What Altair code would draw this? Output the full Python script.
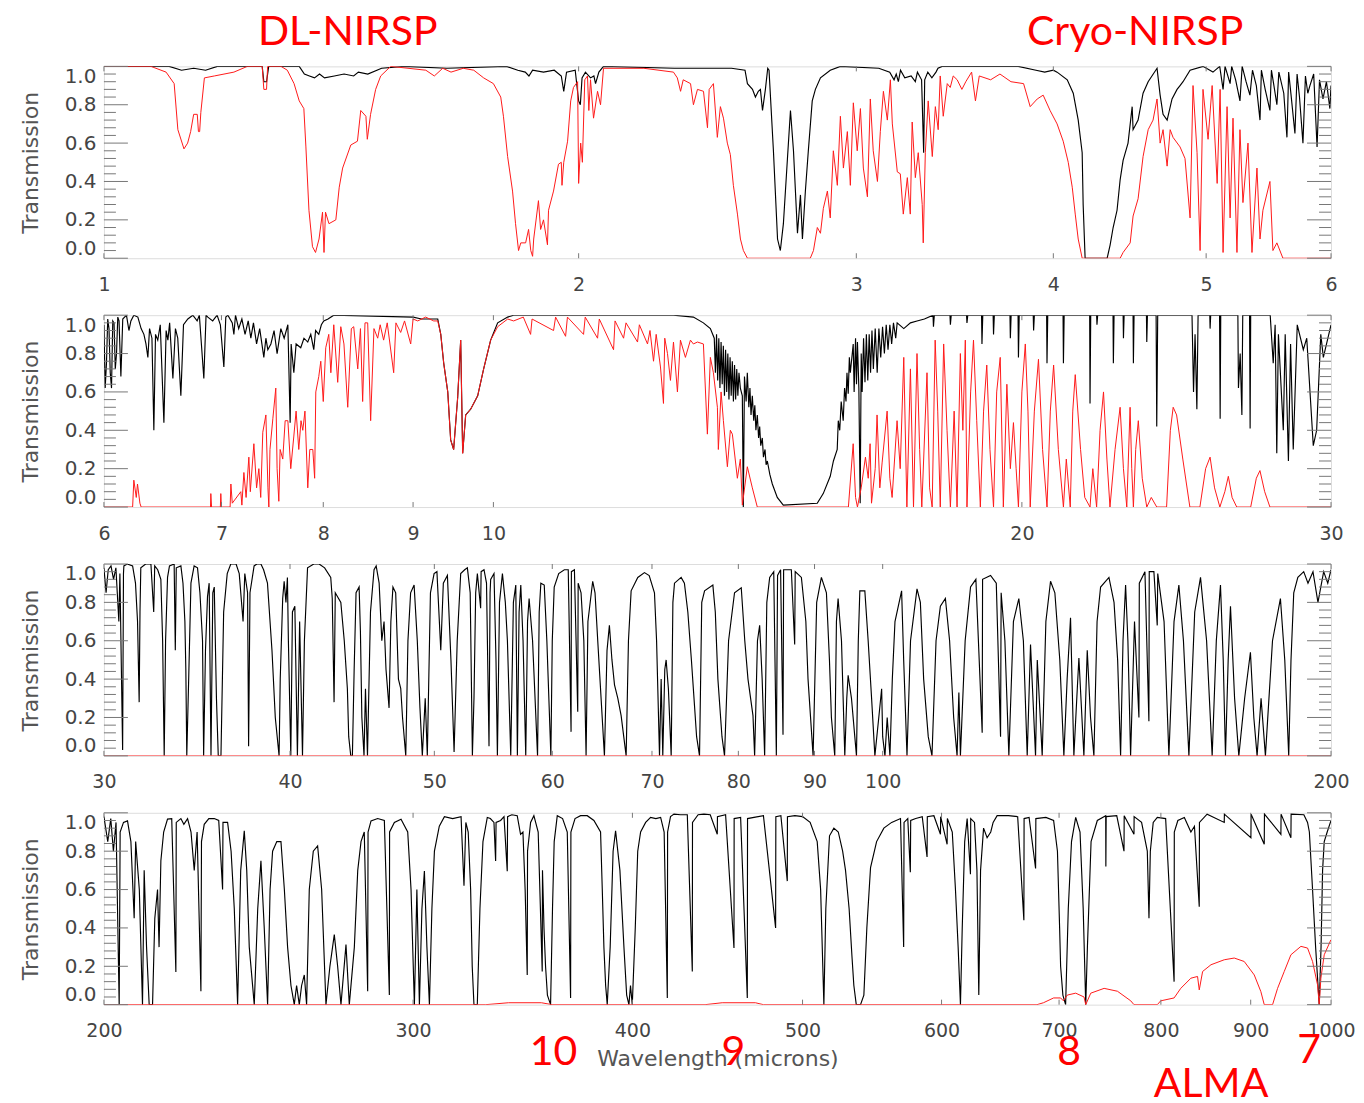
import altair as alt
import pandas as pd

# ---------------- data (wavelength in microns, transmission) ----------------
P1_RANGE = [1, 6]
P1_TICKS = [1, 2, 3, 4, 5, 6]
P2_RANGE = [6, 30]
P2_TICKS = [6, 7, 8, 9, 10, 20, 30]
P3_RANGE = [30, 200]
P3_TICKS = [30, 40, 50, 60, 70, 80, 90, 100, 200]
P4_RANGE = [200, 1000]
P4_TICKS = [200, 300, 400, 500, 600, 700, 800, 900, 1000]

Y_MAJOR = [0.0, 0.2, 0.4, 0.6, 0.8, 1.0]
Y_MINOR = [0.04, 0.08, 0.12, 0.16, 0.24, 0.28, 0.32, 0.36, 0.44, 0.48, 0.52, 0.56,
           0.64, 0.68, 0.72, 0.76, 0.84, 0.88, 0.92, 0.96]

P1_BLACK = [(1.0,1.0),(1.10,1.0),(1.12,0.98),(1.14,0.99),(1.16,0.98),(1.18,1.0),(1.26,1.0),(1.263,0.92),(1.268,0.92),(1.272,1.0),(1.33,1.0),(1.34,0.96),(1.35,0.95),(1.36,0.94),(1.37,0.96),(1.38,0.94),(1.40,0.95),(1.42,0.96),(1.44,0.95),(1.45,0.97),(1.47,0.96),(1.50,0.99),(1.55,1.0),(1.65,0.99),(1.80,1.0),(1.83,0.98),(1.85,0.97),(1.86,0.95),(1.87,0.98),(1.90,0.97),(1.93,0.98),(1.95,0.95),(1.957,0.87),(1.965,0.97),(1.99,0.98),(2.00,0.82),(2.005,0.80),(2.01,0.94),(2.02,0.97),(2.035,0.94),(2.045,0.95),(2.05,0.91),(2.06,0.97),(2.074,1.0),(2.3,0.99),(2.5,0.99),(2.55,0.98),(2.559,0.91),(2.578,0.88),(2.589,0.84),(2.600,0.87),(2.608,0.88),(2.616,0.77),(2.627,0.88),(2.636,0.99),(2.641,0.98),(2.658,0.56),(2.674,0.10),(2.685,0.04),(2.697,0.18),(2.713,0.52),(2.725,0.77),(2.737,0.56),(2.753,0.13),(2.765,0.33),(2.773,0.10),(2.785,0.35),(2.797,0.56),(2.813,0.82),(2.826,0.88),(2.847,0.94),(2.888,0.98),(2.931,1.0),(3.1,0.99),(3.15,0.97),(3.17,0.93),(3.18,0.96),(3.19,0.92),(3.20,0.98),(3.22,0.94),(3.25,0.95),(3.27,0.92),(3.28,0.97),(3.30,0.93),(3.31,0.55),(3.315,0.93),(3.33,0.97),(3.35,0.94),(3.37,0.97),(3.38,0.99),(3.40,1.0),(3.8,1.0),(3.9,0.98),(3.95,0.97),(4.0,0.98),(4.022,0.97),(4.082,0.93),(4.118,0.86),(4.148,0.72),(4.172,0.55),(4.178,0.28),(4.190,0.0),(4.327,0.0),(4.346,0.07),(4.365,0.16),(4.390,0.25),(4.410,0.41),(4.429,0.51),(4.461,0.60),(4.488,0.79),(4.494,0.67),(4.527,0.72),(4.560,0.86),(4.594,0.92),(4.654,0.99),(4.675,0.85),(4.695,0.75),(4.723,0.72),(4.757,0.83),(4.792,0.88),(4.813,0.90),(4.834,0.92),(4.884,0.98),(4.977,1.0),(5.05,0.97),(5.10,1.0),(5.125,0.88),(5.14,1.0),(5.178,0.91),(5.19,1.0),(5.22,0.93),(5.253,0.82),(5.27,1.0),(5.30,0.92),(5.33,0.85),(5.35,0.98),(5.38,0.90),(5.409,0.72),(5.42,0.98),(5.45,0.88),(5.488,0.77),(5.50,0.98),(5.52,0.90),(5.544,0.80),(5.56,0.97),(5.60,0.86),(5.626,0.63),(5.64,0.97),(5.66,0.85),(5.692,0.65),(5.71,0.96),(5.73,0.84),(5.759,0.60),(5.78,0.95),(5.80,0.86),(5.818,0.90),(5.85,0.96),(5.879,0.58),(5.90,0.93),(5.930,0.83),(5.96,0.92),(5.990,0.78),(6.0,0.9)]

P1_RED = [(1.0,1.0),(1.071,1.0),(1.095,0.97),(1.108,0.91),(1.114,0.67),(1.124,0.57),(1.130,0.60),(1.135,0.66),(1.140,0.75),(1.146,0.75),(1.148,0.66),(1.150,0.66),(1.152,0.76),(1.158,0.94),(1.175,0.95),(1.209,0.97),(1.233,1.0),(1.26,1.0),(1.263,0.88),(1.268,0.88),(1.270,1.0),(1.295,1.0),(1.307,0.98),(1.320,0.91),(1.330,0.82),(1.339,0.78),(1.343,0.58),(1.349,0.25),(1.356,0.06),(1.362,0.03),(1.369,0.10),(1.376,0.24),(1.379,0.03),(1.382,0.24),(1.389,0.18),(1.403,0.20),(1.410,0.37),(1.417,0.47),(1.434,0.59),(1.448,0.61),(1.455,0.77),(1.466,0.74),(1.469,0.62),(1.476,0.75),(1.487,0.88),(1.498,0.95),(1.520,1.0),(1.60,0.98),(1.62,0.95),(1.64,0.99),(1.66,0.97),(1.69,0.99),(1.716,0.98),(1.741,0.94),(1.766,0.91),(1.785,0.84),(1.792,0.74),(1.803,0.53),(1.816,0.35),(1.824,0.18),(1.832,0.04),(1.838,0.08),(1.851,0.08),(1.859,0.15),(1.865,0.04),(1.870,0.01),(1.873,0.10),(1.886,0.30),(1.892,0.15),(1.900,0.20),(1.911,0.07),(1.914,0.25),(1.928,0.35),(1.942,0.49),(1.950,0.50),(1.952,0.38),(1.957,0.50),(1.968,0.61),(1.977,0.82),(1.985,0.89),(1.997,0.92),(2.000,0.39),(2.006,0.60),(2.011,0.50),(2.018,0.93),(2.026,0.95),(2.030,0.77),(2.035,0.93),(2.044,0.73),(2.056,0.87),(2.065,0.80),(2.074,0.99),(2.2,0.99),(2.297,0.97),(2.31,0.94),(2.321,0.87),(2.33,0.93),(2.355,0.91),(2.365,0.80),(2.379,0.88),(2.400,0.87),(2.414,0.68),(2.420,0.88),(2.435,0.91),(2.449,0.63),(2.460,0.79),(2.471,0.73),(2.485,0.60),(2.496,0.54),(2.507,0.38),(2.522,0.23),(2.533,0.10),(2.544,0.04),(2.559,0.0),(2.805,0.0),(2.818,0.04),(2.834,0.16),(2.847,0.13),(2.859,0.26),(2.876,0.35),(2.888,0.21),(2.901,0.56),(2.918,0.38),(2.931,0.74),(2.944,0.47),(2.961,0.66),(2.974,0.38),(2.987,0.81),(3.004,0.56),(3.018,0.78),(3.031,0.47),(3.049,0.32),(3.062,0.83),(3.075,0.56),(3.094,0.40),(3.107,0.66),(3.121,0.87),(3.139,0.72),(3.153,0.93),(3.162,0.70),(3.185,0.45),(3.199,0.44),(3.213,0.23),(3.232,0.42),(3.246,0.23),(3.255,0.71),(3.270,0.42),(3.284,0.55),(3.303,0.28),(3.308,0.08),(3.318,0.55),(3.332,0.82),(3.352,0.53),(3.367,0.79),(3.381,0.67),(3.391,0.95),(3.406,0.74),(3.426,0.91),(3.441,0.89),(3.456,0.95),(3.476,0.93),(3.50,0.88),(3.52,0.92),(3.55,0.97),(3.57,0.82),(3.59,0.95),(3.65,0.93),(3.70,0.96),(3.76,0.92),(3.83,0.91),(3.867,0.79),(3.907,0.83),(3.941,0.85),(3.981,0.77),(4.022,0.70),(4.058,0.61),(4.088,0.50),(4.112,0.37),(4.130,0.23),(4.148,0.10),(4.172,0.0),(4.410,0.0),(4.429,0.03),(4.475,0.08),(4.494,0.22),(4.527,0.31),(4.560,0.53),(4.594,0.67),(4.627,0.72),(4.654,0.83),(4.675,0.60),(4.695,0.67),(4.723,0.48),(4.744,0.67),(4.764,0.63),(4.813,0.58),(4.848,0.52),(4.884,0.21),(4.905,0.90),(4.934,0.55),(4.956,0.04),(4.977,0.88),(5.014,0.62),(5.044,0.90),(5.081,0.39),(5.103,0.88),(5.125,0.03),(5.155,0.79),(5.178,0.21),(5.200,0.73),(5.230,0.03),(5.253,0.67),(5.276,0.29),(5.315,0.60),(5.346,0.03),(5.385,0.47),(5.409,0.10),(5.432,0.25),(5.488,0.40),(5.512,0.04),(5.544,0.08),(5.593,0.0),(6.0,0.0)]

P2_BLACK = [(6.0,0.95),(6.01,0.62),(6.02,0.75),(6.03,0.98),(6.04,0.93),(6.05,0.70),(6.06,0.62),(6.07,0.97),(6.08,0.96),(6.09,0.72),(6.10,0.80),(6.11,0.99),(6.12,0.97),(6.135,0.68),(6.15,0.98),(6.18,1.0),(6.20,0.92),(6.216,0.97),(6.24,1.0),(6.273,0.99),(6.30,0.93),(6.323,0.90),(6.34,0.85),(6.356,0.78),(6.37,0.93),(6.39,0.88),(6.406,0.40),(6.42,0.90),(6.439,0.87),(6.46,0.95),(6.491,0.44),(6.51,0.92),(6.525,0.87),(6.54,0.96),(6.568,0.67),(6.59,0.93),(6.61,0.88),(6.637,0.58),(6.66,0.95),(6.698,0.98),(6.742,1.0),(6.78,0.97),(6.80,1.0),(6.840,0.67),(6.86,1.0),(6.876,0.99),(6.92,0.97),(6.96,1.0),(6.99,0.95),(7.022,0.73),(7.04,0.99),(7.059,1.0),(7.10,0.96),(7.115,0.90),(7.13,1.0),(7.16,0.93),(7.19,0.98),(7.22,0.90),(7.25,0.97),(7.275,0.88),(7.30,0.96),(7.33,0.85),(7.36,0.93),(7.40,0.78),(7.42,0.88),(7.439,0.82),(7.469,0.85),(7.50,0.92),(7.53,0.80),(7.567,0.93),(7.60,0.88),(7.637,0.95),(7.66,0.44),(7.67,0.85),(7.697,0.70),(7.72,0.85),(7.767,0.83),(7.80,0.88),(7.839,0.86),(7.87,0.90),(7.901,0.82),(7.92,0.92),(7.953,0.90),(7.98,0.95),(8.005,0.97),(8.05,0.98),(8.111,1.0),(9.0,0.99),(9.1,0.98),(9.2,0.98),(9.296,0.98),(9.333,0.90),(9.369,0.75),(9.419,0.60),(9.455,0.35),(9.492,0.30),(9.542,0.57),(9.58,0.87),(9.605,0.28),(9.643,0.48),(9.706,0.51),(9.796,0.58),(9.873,0.72),(9.964,0.87),(10.056,0.96),(10.189,0.99),(10.269,1.0),(12.664,1.0),(12.999,0.99),(13.171,0.96),(13.292,0.93),(13.36,0.88),(13.38,0.70),(13.40,0.90),(13.42,0.66),(13.44,0.88),(13.46,0.62),(13.48,0.86),(13.50,0.64),(13.52,0.84),(13.54,0.58),(13.56,0.82),(13.58,0.60),(13.60,0.80),(13.62,0.56),(13.64,0.78),(13.66,0.58),(13.68,0.76),(13.70,0.55),(13.72,0.74),(13.74,0.56),(13.76,0.72),(13.78,0.58),(13.80,0.70),(13.825,0.62),(13.861,0.58),(13.879,0.0),(13.90,0.68),(13.93,0.55),(13.952,0.70),(13.98,0.52),(14.0,0.62),(14.02,0.48),(14.044,0.58),(14.07,0.45),(14.09,0.53),(14.11,0.40),(14.136,0.48),(14.16,0.36),(14.18,0.42),(14.20,0.32),(14.229,0.36),(14.25,0.26),(14.28,0.30),(14.30,0.22),(14.323,0.24),(14.37,0.17),(14.417,0.12),(14.511,0.05),(14.626,0.01),(15.292,0.02),(15.413,0.07),(15.555,0.16),(15.62,0.24),(15.698,0.30),(15.72,0.45),(15.75,0.40),(15.78,0.55),(15.822,0.45),(15.85,0.62),(15.88,0.55),(15.90,0.70),(15.926,0.59),(15.95,0.78),(15.97,0.70),(16.031,0.85),(16.05,0.60),(16.08,0.88),(16.10,0.64),(16.12,0.86),(16.15,0.62),(16.178,0.02),(16.2,0.80),(16.22,0.60),(16.25,0.88),(16.28,0.65),(16.31,0.90),(16.34,0.66),(16.37,0.90),(16.40,0.70),(16.43,0.92),(16.46,0.72),(16.50,0.93),(16.543,0.70),(16.58,0.93),(16.62,0.78),(16.66,0.94),(16.70,0.80),(16.74,0.95),(16.78,0.82),(16.82,0.95),(16.86,0.85),(16.90,0.96),(16.95,0.88),(16.982,0.96),(17.13,0.93),(17.28,0.96),(17.43,0.97),(17.6,0.98),(17.80,1.0),(17.81,0.94),(17.83,1.0),(18.2,1.0),(18.21,0.95),(18.23,1.0),(18.6,1.0),(18.61,0.96),(18.63,1.0),(18.97,1.0),(18.98,0.85),(19.0,1.0),(19.26,1.0),(19.27,0.90),(19.29,1.0),(19.69,1.0),(19.70,0.88),(19.72,1.0),(19.90,1.0),(19.91,0.78),(19.93,1.0),(20.30,1.0),(20.31,0.92),(20.33,1.0),(20.66,1.0),(20.67,0.75),(20.69,1.0),(21.11,1.0),(21.12,0.75),(21.14,1.0),(21.86,1.0),(21.87,0.54),(21.89,1.0),(22.06,1.0),(22.07,0.95),(22.09,1.0),(22.54,1.0),(22.55,0.75),(22.57,1.0),(22.84,1.0),(22.85,0.88),(22.87,1.0),(23.14,1.0),(23.15,0.75),(23.17,1.0),(23.55,1.0),(23.56,0.86),(23.58,1.0),(23.85,1.0),(23.87,0.42),(23.90,1.0),(25.0,1.0),(25.05,0.60),(25.10,0.90),(25.16,0.51),(25.20,1.0),(25.59,1.0),(25.60,0.93),(25.62,1.0),(25.92,1.0),(25.94,0.46),(25.96,1.0),(26.55,1.0),(26.57,0.62),(26.63,0.80),(26.69,0.48),(26.72,1.0),(26.96,1.0),(26.98,0.41),(27.00,1.0),(27.7,1.0),(27.81,0.75),(27.88,0.95),(27.94,0.28),(28.0,0.90),(28.18,0.40),(28.25,0.9),(28.37,0.24),(28.45,0.85),(28.55,0.30),(28.7,0.95),(28.93,0.82),(29.06,0.88),(29.31,0.32),(29.44,0.40),(29.6,0.90),(29.70,0.78),(30.0,0.95)]

P2_RED = [(6.0,0.0),(6.23,0.0),(6.24,0.14),(6.26,0.05),(6.27,0.12),(6.29,0.02),(6.30,0.0),(6.90,0.0),(6.903,0.07),(6.91,0.0),(6.99,0.0),(6.994,0.07),(7.00,0.0),(7.08,0.0),(7.087,0.12),(7.10,0.02),(7.18,0.08),(7.19,0.01),(7.209,0.18),(7.23,0.05),(7.256,0.26),(7.27,0.08),(7.304,0.33),(7.33,0.10),(7.352,0.20),(7.37,0.05),(7.39,0.39),(7.42,0.48),(7.44,0.10),(7.449,0.0),(7.46,0.3),(7.488,0.46),(7.517,0.62),(7.53,0.2),(7.547,0.03),(7.56,0.3),(7.586,0.25),(7.61,0.45),(7.637,0.45),(7.666,0.20),(7.697,0.37),(7.72,0.5),(7.747,0.30),(7.77,0.45),(7.788,0.40),(7.81,0.5),(7.839,0.10),(7.86,0.3),(7.891,0.30),(7.91,0.15),(7.922,0.60),(7.953,0.68),(7.974,0.76),(8.0,0.55),(8.026,0.83),(8.058,0.90),(8.08,0.70),(8.111,0.95),(8.153,0.65),(8.186,0.94),(8.22,0.85),(8.261,0.52),(8.30,0.93),(8.326,0.94),(8.37,0.72),(8.40,0.93),(8.424,0.55),(8.45,0.96),(8.480,0.96),(8.513,0.45),(8.55,0.93),(8.592,0.88),(8.62,0.95),(8.659,0.87),(8.70,0.96),(8.774,0.70),(8.80,0.96),(8.855,0.91),(8.90,0.97),(8.972,0.85),(9.0,0.98),(9.055,0.97),(9.15,0.99),(9.247,0.97),(9.296,0.97),(9.333,0.90),(9.369,0.75),(9.419,0.60),(9.455,0.35),(9.492,0.30),(9.542,0.57),(9.58,0.87),(9.605,0.28),(9.643,0.48),(9.706,0.51),(9.796,0.58),(9.873,0.72),(9.964,0.87),(10.056,0.94),(10.189,0.98),(10.269,0.97),(10.40,0.99),(10.50,0.90),(10.52,0.98),(10.821,0.92),(10.85,0.99),(10.993,0.89),(11.02,0.99),(11.255,0.90),(11.28,0.99),(11.464,0.88),(11.49,0.98),(11.707,0.82),(11.73,0.97),(11.862,0.88),(11.9,0.96),(12.081,0.86),(12.11,0.95),(12.240,0.85),(12.28,0.92),(12.337,0.76),(12.38,0.90),(12.450,0.73),(12.499,0.54),(12.52,0.88),(12.565,0.80),(12.614,0.66),(12.664,0.86),(12.730,0.60),(12.780,0.87),(12.864,0.78),(12.949,0.87),(12.999,0.85),(13.068,0.86),(13.171,0.85),(13.240,0.38),(13.292,0.78),(13.345,0.70),(13.415,0.52),(13.432,0.30),(13.48,0.60),(13.521,0.45),(13.592,0.21),(13.645,0.40),(13.681,0.38),(13.771,0.15),(13.825,0.25),(13.861,0.01),(13.952,0.21),(14.044,0.10),(14.136,0.0),(15.93,0.0),(16.03,0.33),(16.08,0.05),(16.12,0.0),(16.2,0.1),(16.29,0.26),(16.35,0.15),(16.39,0.33),(16.42,0.02),(16.5,0.2),(16.54,0.48),(16.6,0.1),(16.65,0.23),(16.76,0.50),(16.82,0.15),(16.87,0.05),(16.98,0.45),(17.05,0.2),(17.13,0.78),(17.2,0.0),(17.28,0.72),(17.35,0.0),(17.43,0.80),(17.49,0.3),(17.54,0.0),(17.66,0.70),(17.72,0.1),(17.78,0.0),(17.85,0.87),(17.91,0.5),(17.97,0.0),(18.05,0.85),(18.13,0.4),(18.21,0.0),(18.3,0.5),(18.37,0.0),(18.45,0.80),(18.51,0.4),(18.57,0.87),(18.61,0.0),(18.70,0.6),(18.77,0.87),(18.85,0.45),(18.94,0.0),(19.02,0.5),(19.10,0.74),(19.18,0.3),(19.27,0.0),(19.35,0.6),(19.44,0.78),(19.52,0.0),(19.61,0.64),(19.70,0.2),(19.78,0.44),(19.85,0.2),(19.91,0.0),(20.0,0.6),(20.09,0.85),(20.16,0.5),(20.22,0.0),(20.33,0.5),(20.44,0.77),(20.55,0.3),(20.67,0.0),(20.76,0.5),(20.85,0.74),(20.98,0.3),(21.12,0.0),(21.2,0.25),(21.31,0.0),(21.38,0.5),(21.45,0.69),(21.6,0.3),(21.72,0.05),(21.87,0.0),(21.95,0.2),(22.06,0.0),(22.16,0.4),(22.26,0.60),(22.36,0.25),(22.45,0.0),(22.6,0.3),(22.75,0.52),(22.85,0.2),(22.95,0.0),(23.05,0.52),(23.1,0.2),(23.15,0.0),(23.22,0.3),(23.30,0.45),(23.42,0.15),(23.56,0.0),(23.70,0.05),(23.87,0.0),(24.18,0.0),(24.3,0.4),(24.39,0.52),(24.5,0.48),(24.7,0.25),(24.93,0.0),(25.26,0.0),(25.45,0.2),(25.60,0.26),(25.75,0.1),(25.93,0.0),(26.1,0.08),(26.22,0.16),(26.35,0.05),(26.51,0.0),(27.0,0.0),(27.2,0.15),(27.33,0.19),(27.5,0.08),(27.69,0.0),(30.0,0.0)]

P3_BLACK = [(30.0,0.98),(30.1,0.85),(30.2,0.97),(30.33,0.99),(30.45,0.92),(30.56,0.98),(30.7,0.70),(30.75,0.95),(30.88,0.03),(30.92,0.95),(30.94,0.99),(31.1,1.0),(31.36,0.99),(31.5,0.90),(31.6,0.70),(31.68,0.28),(31.72,0.75),(31.76,0.98),(32.0,1.0),(32.26,1.0),(32.4,0.75),(32.45,0.99),(32.6,0.97),(32.76,0.92),(32.85,0.6),(32.93,0.0),(33.0,0.6),(33.10,0.93),(33.2,0.99),(33.44,1.0),(33.5,0.55),(33.55,0.98),(33.79,0.99),(33.9,0.90),(34.0,0.7),(34.05,0.45),(34.1,0.0),(34.2,0.4),(34.32,0.90),(34.49,0.99),(34.67,0.98),(34.8,0.85),(34.94,0.6),(35.0,0.0),(35.1,0.55),(35.21,0.83),(35.30,0.90),(35.4,0.0),(35.5,0.85),(35.58,0.88),(35.7,0.3),(35.8,0.0),(35.95,0.0),(36.1,0.75),(36.3,0.95),(36.50,1.0),(36.8,1.0),(36.98,0.95),(37.2,0.70),(37.3,0.95),(37.46,0.85),(37.52,0.05),(37.6,0.85),(37.84,0.99),(38.0,1.0),(38.24,1.0),(38.4,0.97),(38.63,0.90),(38.9,0.55),(39.1,0.2),(39.33,0.0),(39.4,0.4),(39.55,0.82),(39.64,0.91),(39.75,0.8),(39.84,0.93),(39.9,0.6),(40.05,0.0),(40.15,0.75),(40.3,0.78),(40.46,0.0),(40.6,0.7),(40.78,0.0),(40.9,0.6),(41.10,0.98),(41.5,1.0),(41.84,1.0),(42.2,0.98),(42.60,0.93),(42.7,0.82),(42.82,0.28),(42.9,0.85),(43.27,0.80),(43.5,0.60),(43.71,0.35),(43.8,0.1),(43.94,0.0),(44.05,0.0),(44.17,0.45),(44.3,0.85),(44.51,0.88),(44.6,0.65),(44.7,0.2),(44.85,0.0),(44.95,0.35),(45.09,0.0),(45.3,0.75),(45.55,0.97),(45.7,0.99),(45.91,0.90),(46.1,0.6),(46.26,0.70),(46.4,0.45),(46.62,0.25),(46.75,0.7),(46.9,0.88),(47.10,0.85),(47.3,0.4),(47.47,0.35),(47.6,0.2),(47.84,0.0),(48.0,0.6),(48.2,0.85),(48.46,0.89),(48.7,0.6),(48.9,0.25),(49.08,0.0),(49.3,0.3),(49.46,0.0),(49.7,0.85),(49.98,0.95),(50.2,0.96),(50.50,0.55),(50.7,0.9),(51.02,0.94),(51.3,0.5),(51.55,0.02),(51.8,0.6),(52.08,0.95),(52.4,0.97),(52.62,0.98),(52.85,0.85),(53.03,0.0),(53.16,0.3),(53.3,0.85),(53.44,0.95),(53.71,0.77),(53.75,0.96),(53.99,0.97),(54.2,0.9),(54.41,0.05),(54.5,0.85),(54.55,0.92),(54.83,0.95),(55.0,0.5),(55.12,0.0),(55.3,0.8),(55.55,0.95),(55.8,0.8),(55.98,0.6),(56.27,0.0),(56.5,0.8),(56.71,0.89),(56.85,0.0),(57.0,0.75),(57.15,0.89),(57.35,0.6),(57.59,0.0),(57.75,0.7),(57.89,0.82),(58.2,0.6),(58.65,0.0),(58.8,0.75),(58.95,0.90),(59.26,0.89),(59.5,0.6),(59.87,0.0),(60.0,0.6),(60.18,0.88),(60.6,0.95),(61.13,0.97),(61.5,0.97),(61.77,0.125),(61.8,0.96),(62.09,0.97),(62.41,0.23),(62.45,0.9),(62.73,0.85),(63.0,0.6),(63.22,0.0),(63.4,0.7),(63.87,0.91),(64.1,0.85),(64.37,0.6),(65.04,0.0),(65.3,0.55),(65.54,0.68),(65.8,0.5),(66.06,0.37),(66.4,0.3),(66.74,0.21),(67.26,0.0),(67.5,0.6),(67.78,0.86),(68.48,0.93),(69.19,0.955),(69.7,0.94),(70.27,0.85),(70.5,0.6),(70.82,0.0),(71.0,0.4),(71.18,0.0),(71.4,0.45),(71.55,0.5),(71.8,0.35),(72.11,0.0),(72.3,0.8),(72.48,0.9),(73.23,0.93),(73.6,0.9),(73.99,0.75),(74.4,0.5),(74.76,0.26),(75.0,0.1),(75.34,0.0),(75.6,0.8),(75.93,0.86),(76.91,0.89),(77.2,0.75),(77.51,0.4),(78.0,0.1),(78.31,0.0),(78.8,0.6),(79.53,0.85),(80.36,0.876),(80.8,0.6),(81.20,0.4),(81.83,0.21),(82.04,0.0),(82.4,0.6),(82.68,0.68),(83.0,0.4),(83.32,0.0),(83.6,0.8),(83.97,0.93),(84.5,0.96),(84.84,0.0),(85.0,0.94),(85.4,0.97),(85.72,0.11),(85.8,0.97),(86.83,0.97),(87.28,0.58),(87.35,0.96),(88.19,0.93),(88.8,0.7),(89.10,0.4),(89.80,0.0),(90.3,0.8),(90.96,0.93),(91.67,0.85),(92.1,0.5),(92.38,0.2),(92.86,0.0),(93.1,0.7),(93.34,0.82),(93.83,0.6),(94.31,0.0),(94.6,0.3),(94.80,0.42),(95.29,0.3),(95.78,0.1),(96.03,0.0),(96.3,0.6),(96.53,0.86),(97.28,0.86),(97.78,0.6),(98.3,0.3),(98.80,0.0),(99.4,0.2),(99.84,0.35),(100.0,0.1),(100.35,0.0),(100.7,0.2),(101.13,0.0),(101.5,0.4),(101.92,0.7),(102.97,0.86),(103.3,0.5),(103.83,0.0),(104.4,0.6),(105.45,0.87),(106.0,0.8),(106.54,0.4),(107.3,0.1),(107.92,0.0),(108.6,0.6),(109.33,0.78),(110.18,0.82),(110.9,0.6),(111.6,0.2),(112.19,0.0),(112.5,0.33),(112.77,0.0),(113.6,0.6),(114.55,0.88),(115.5,0.92),(116.63,0.12),(116.7,0.92),(118.15,0.94),(119.2,0.9),(119.99,0.1),(120.1,0.85),(120.8,0.6),(121.54,0.0),(122.4,0.7),(123.43,0.82),(124.3,0.6),(125.04,0.0),(125.68,0.58),(126.66,0.0),(127.0,0.5),(127.97,0.0),(128.7,0.7),(129.63,0.91),(130.5,0.85),(131.5,0.5),(132.33,0.0),(133.0,0.4),(133.70,0.72),(134.39,0.0),(135.0,0.3),(135.44,0.51),(136.49,0.0),(137.20,0.55),(137.9,0.2),(138.62,0.0),(139.3,0.7),(140.06,0.88),(141.88,0.93),(143.0,0.8),(143.8,0.5),(144.46,0.0),(145.0,0.6),(145.58,0.89),(146.1,0.6),(146.71,0.0),(147.6,0.7),(148.61,0.2),(148.7,0.9),(150.0,0.96),(150.92,0.18),(151.0,0.96),(152.09,0.96),(152.88,0.68),(153.0,0.95),(154.5,0.7),(155.66,0.0),(156.9,0.7),(158.08,0.89),(159.2,0.6),(160.55,0.0),(162.0,0.75),(163.46,0.93),(165.0,0.6),(166.43,0.0),(167.5,0.6),(168.58,0.89),(169.3,0.5),(169.89,0.0),(170.6,0.5),(171.21,0.78),(172.3,0.3),(173.43,0.0),(175.0,0.3),(176.57,0.54),(177.5,0.2),(178.40,0.0),(179.5,0.3),(180.71,0.0),(182.7,0.6),(184.95,0.82),(186.2,0.5),(187.34,0.0),(188.0,0.5),(188.80,0.85),(190.0,0.93),(191.73,0.96),(193.0,0.9),(194.5,0.96),(196.0,0.8),(197.74,0.96),(199.0,0.9),(200.0,0.97)]

P3_RED = [(30.0,0.0),(200.0,0.0)]

P4_BLACK = [(200.0,0.98),(201.0,0.85),(201.8,0.97),(202.5,0.80),(203.2,0.95),(204.04,0.0),(204.3,0.9),(205.2,0.95),(206.28,0.958),(207.2,0.85),(208.09,0.45),(208.5,0.85),(209.5,0.6),(210.38,0.0),(210.84,0.7),(211.5,0.3),(212.23,0.0),(213.17,0.0),(213.8,0.45),(214.57,0.6),(215.0,0.3),(215.51,0.75),(216.3,0.9),(217.40,0.967),(218.6,0.97),(219.79,0.17),(219.9,0.95),(221.24,0.97),(222.1,0.94),(223.19,0.97),(224.2,0.9),(225.15,0.7),(226.0,0.9),(227.13,0.07),(227.3,0.85),(228.12,0.94),(229.5,0.97),(231.14,0.97),(232.5,0.96),(233.68,0.6),(233.8,0.95),(235.22,0.95),(236.3,0.8),(237.29,0.5),(238.33,0.0),(239.3,0.7),(240.42,0.906),(241.2,0.7),(242.00,0.3),(243.59,0.0),(244.7,0.5),(245.73,0.75),(246.8,0.4),(247.89,0.0),(248.7,0.6),(249.52,0.8),(250.9,0.85),(252.27,0.85),(253.4,0.6),(254.48,0.3),(255.6,0.1),(256.72,0.0),(257.5,0.1),(258.41,0.0),(259.2,0.1),(260.11,0.155),(260.9,0.0),(261.82,0.6),(263.2,0.8),(264.70,0.827),(266.1,0.6),(267.61,0.0),(269.0,0.2),(270.55,0.365),(271.74,0.2),(272.93,0.0),(274.73,0.313),(275.93,0.0),(277.76,0.3),(279.0,0.7),(280.20,0.85),(281.4,0.9),(282.66,0.07),(282.8,0.9),(283.90,0.958),(286.39,0.97),(288.91,0.96),(290.81,0.05),(290.9,0.9),(292.73,0.95),(295.30,0.967),(297.90,0.9),(299.2,0.6),(300.52,0.0),(301.5,0.6),(302.50,0.0),(303.5,0.5),(304.49,0.696),(305.5,0.3),(306.50,0.0),(307.5,0.5),(308.52,0.8),(310.5,0.93),(312.59,0.98),(316.0,0.97),(319.49,0.98),(320.72,0.62),(321.5,0.95),(322.5,0.9),(323.53,0.6),(324.2,0.2),(324.94,0.0),(326.37,0.0),(327.5,0.5),(328.8,0.85),(330.67,0.976),(332.0,0.97),(333.58,0.95),(334.31,0.749),(334.5,0.95),(336.5,0.96),(338.0,0.98),(339.44,0.696),(339.6,0.98),(341.5,0.99),(343.91,0.985),(345.42,0.888),(346.5,0.9),(347.5,0.6),(348.46,0.155),(348.6,0.8),(350.0,0.95),(351.51,0.985),(353.5,0.9),(355.38,0.173),(355.5,0.7),(356.2,0.4),(356.93,0.2),(357.8,0.05),(359.29,0.0),(360.2,0.5),(361.0,0.85),(362.46,0.985),(365.0,0.97),(367.24,0.9),(368.85,0.035),(369.0,0.9),(371.0,0.97),(373.71,0.985),(376.99,0.985),(380.30,0.96),(383.64,0.9),(384.5,0.6),(385.32,0.3),(386.2,0.1),(387.01,0.0),(388.5,0.3),(390.0,0.8),(391.27,0.906),(393.5,0.7),(395.58,0.3),(397.0,0.05),(398.18,0.0),(399.0,0.1),(399.93,0.0),(401.5,0.4),(402.8,0.8),(404.33,0.9),(407.0,0.95),(409.67,0.976),(412.5,0.97),(415.09,0.976),(417.0,0.9),(418.74,0.035),(418.9,0.9),(420.5,0.98),(422.42,0.993),(426.0,0.99),(429.86,0.99),(432.69,0.173),(432.8,0.95),(436.0,0.99),(439.34,0.993),(443.0,0.99),(447.09,0.888),(447.2,0.98),(452.0,0.99),(457.00,0.295),(457.1,0.97),(461.0,0.976),(465.06,0.035),(465.2,0.97),(469.15,0.976),(475.0,0.985),(482.65,0.40),(482.8,0.98),(486.0,0.985),(490.09,0.644),(490.2,0.98),(495.0,0.985),(500.0,0.98),(505.0,0.95),(509.71,0.85),(512.0,0.6),(514.19,0.0),(515.5,0.5),(518.0,0.88),(520.97,0.92),(524.0,0.9),(527.0,0.8),(529.00,0.7),(531.5,0.5),(533.5,0.25),(534.81,0.1),(536.5,0.0),(539.51,0.0),(541.88,0.05),(544.0,0.4),(546.64,0.714),(551.0,0.85),(556.27,0.92),(562.0,0.95),(568.55,0.97),(570.91,0.30),(571.2,0.95),(574.0,0.97),(575.93,0.69),(576.2,0.96),(580.0,0.97),(585.0,0.98),(588.71,0.77),(588.9,0.98),(594.0,0.985),(599.14,0.888),(599.3,0.98),(604.40,0.836),(604.6,0.97),(608.5,0.9),(611.05,0.6),(613.2,0.3),(615.07,0.0),(616.5,0.4),(618.5,0.85),(620.5,0.97),(623.19,0.68),(623.4,0.97),(626.5,0.95),(628.5,0.7),(630.04,0.05),(631.5,0.7),(634.0,0.92),(636.95,0.87),(640.0,0.9),(642.0,0.95),(645.37,0.985),(655.0,0.985),(663.0,0.98),(668.42,0.44),(668.6,0.97),(673.0,0.976),(678.77,0.71),(679.0,0.97),(688.0,0.976),(695.0,0.96),(698.5,0.8),(700.5,0.4),(701.41,0.2),(703.5,0.05),(706.03,0.0),(708.5,0.5),(711.5,0.85),(715.43,0.976),(719.5,0.9),(722.5,0.5),(724.91,0.0),(726.50,0.3),(730.0,0.85),(736.0,0.96),(744.15,0.985),(744.3,0.72),(744.6,0.98),(755.0,0.985),(762.22,0.8),(762.4,0.985),(772.26,0.888),(772.4,0.98),(780.0,0.95),(785.88,0.8),(787.60,0.45),(789.0,0.8),(792.0,0.95),(796.26,0.976),(805.0,0.97),(813.99,0.12),(814.2,0.9),(818.0,0.96),(825.0,0.976),(832.11,0.9),(836.0,0.93),(841.29,0.51),(841.5,0.95),(850.0,0.993),(869.31,0.95),(869.5,0.993),(900.25,0.87),(900.5,0.993),(916.14,0.836),(916.4,0.993),(936.38,0.888),(936.6,0.993),(948.75,0.87),(949.0,0.993),(965.0,0.99),(969.69,0.95),(972.0,0.9),(976.07,0.6),(980.0,0.3),(984.66,0.0),(987.0,0.3),(989.0,0.7),(991.13,0.85),(995.0,0.9),(999.84,0.958)]

P4_RED = [(200.0,0.0),(330.0,0.0),(340.0,0.01),(355.0,0.01),(360.0,0.0),(440.0,0.0),(450.0,0.01),(470.0,0.01),(475.0,0.0),(680.0,0.0),(685.8,0.01),(695.0,0.035),(701.41,0.035),(704.0,0.02),(707.6,0.05),(715.43,0.06),(723.3,0.04),(724.91,0.0),(729.7,0.06),(742.6,0.085),(755.7,0.07),(769.0,0.02),(772.26,0.0),(796.26,0.0),(799.8,0.02),(813.99,0.035),(821.1,0.085),(832.11,0.138),(839.4,0.147),(841.29,0.077),(845.0,0.173),(854.3,0.208),(869.31,0.234),(880.8,0.243),(892.4,0.225),(904.2,0.155),(912.1,0.068),(916.14,0.0),(926.2,0.0),(932.3,0.085),(940.5,0.173),(948.75,0.26),(961.3,0.304),(969.69,0.295),(976.07,0.225),(982.5,0.103),(984.66,0.0),(986.8,0.138),(991.13,0.26),(999.84,0.338)]

TOP_LABELS = ["DL-NIRSP", "Cryo-NIRSP"]
BOTTOM_LABELS = ["10", "9", "8", "7", "ALMA"]

# ---------------- styling ----------------
W, H = 1228, 192
FONT = "DejaVu Sans"
RED = "#ff1a1a"
LABEL_COLOR = "#444444"


def to_df(pairs):
    return pd.DataFrame({"wl": [p[0] for p in pairs],
                         "T": [p[1] for p in pairs],
                         "i": list(range(len(pairs)))})


def panel(black, red, rng, ticks, xtitle=None, texts=()):
    xscale = alt.Scale(type="log", domain=rng, nice=False, zero=False)
    yscale = alt.Scale(domain=[0, 1], nice=False, zero=False)
    xaxis_kw = dict(values=ticks, format="d", ticks=False, domain=False, grid=False,
                    labelPadding=17, labelFontSize=19, labelFont=FONT,
                    labelColor=LABEL_COLOR, labelOverlap=False, labelFlush=False,
                    labelBound=False, title=xtitle)
    if xtitle:
        xaxis_kw.update(titleFont=FONT, titleFontSize=22, titleFontWeight="normal",
                        titleColor="#555555", titleY=54, titleBaseline="middle")
    xaxis = alt.Axis(**xaxis_kw)
    yaxis = alt.Axis(values=Y_MAJOR, format=".1f", ticks=False, domain=False, grid=False,
                     labelPadding=8, labelFontSize=20, labelFont=FONT,
                     labelColor=LABEL_COLOR, labelFlush=True,
                     title="Transmission", titleFont=FONT, titleFontSize=22,
                     titleFontWeight="normal", titleColor="#555555",
                     titleX=-73, titleY=H / 2, titleAlign="center", titleBaseline="middle")
    X = alt.X("wl:Q", scale=xscale, axis=xaxis)
    Y = alt.Y("T:Q", scale=yscale, axis=yaxis)

    layers = []
    layers.append(alt.Chart(to_df(black)).mark_line(color="black", strokeWidth=1.15, clip=True)
                  .encode(x=X, y=Y, order="i:Q"))
    layers.append(alt.Chart(to_df(red)).mark_line(color=RED, strokeWidth=1, clip=True)
                  .encode(x=X, y=Y, order="i:Q"))

    ymaj = pd.DataFrame({"T": Y_MAJOR})
    ymin = pd.DataFrame({"T": Y_MINOR})
    tick_style = dict(color="#777777", strokeWidth=1)
    layers.append(alt.Chart(ymaj).mark_rule(**tick_style)
                  .encode(y=Y, x=alt.value(0), x2=alt.value(24)))
    layers.append(alt.Chart(ymaj).mark_rule(**tick_style)
                  .encode(y=Y, x=alt.value(W - 24), x2=alt.value(W)))
    layers.append(alt.Chart(ymin).mark_rule(**tick_style)
                  .encode(y=Y, x=alt.value(0), x2=alt.value(12)))
    layers.append(alt.Chart(ymin).mark_rule(**tick_style)
                  .encode(y=Y, x=alt.value(W - 12), x2=alt.value(W)))
    xt = pd.DataFrame({"wl": ticks})
    layers.append(alt.Chart(xt).mark_rule(**tick_style)
                  .encode(x=X, y=alt.value(H), y2=alt.value(H - 5)))
    layers.append(alt.Chart(xt).mark_rule(**tick_style)
                  .encode(x=X, y=alt.value(0), y2=alt.value(5)))

    for label, px, py in texts:
        layers.append(alt.Chart(pd.DataFrame({"t": [label]}))
                      .mark_text(font="Lato", fontSize=41, color="#ff0000",
                                 align="center", baseline="alphabetic")
                      .encode(text="t:N", x=alt.value(px), y=alt.value(py)))

    return alt.layer(*layers).properties(width=W, height=H)


p1 = panel(P1_BLACK, P1_RED, P1_RANGE, P1_TICKS,
           texts=[(TOP_LABELS[0], 244, -21), (TOP_LABELS[1], 1032, -21)])
p2 = panel(P2_BLACK, P2_RED, P2_RANGE, P2_TICKS)
p3 = panel(P3_BLACK, P3_RED, P3_RANGE, P3_TICKS)
p4 = panel(P4_BLACK, P4_RED, P4_RANGE, P4_TICKS, xtitle="Wavelength (microns)",
           texts=[(BOTTOM_LABELS[0], 450, 252), (BOTTOM_LABELS[1], 630, 252),
                  (BOTTOM_LABELS[2], 966, 252), (BOTTOM_LABELS[3], 1206, 250),
                  (BOTTOM_LABELS[4], 1108, 284)])

chart = (alt.vconcat(p1, p2, p3, p4, spacing=57, bounds="flush")
         .properties(padding={"left": 11, "top": 3, "right": 0, "bottom": 0})
         .configure_view(stroke="#8c8c8c", strokeWidth=1.5)
         .configure(background="white"))

chart.save("out.html", embed_options={"renderer": "svg", "actions": False})
